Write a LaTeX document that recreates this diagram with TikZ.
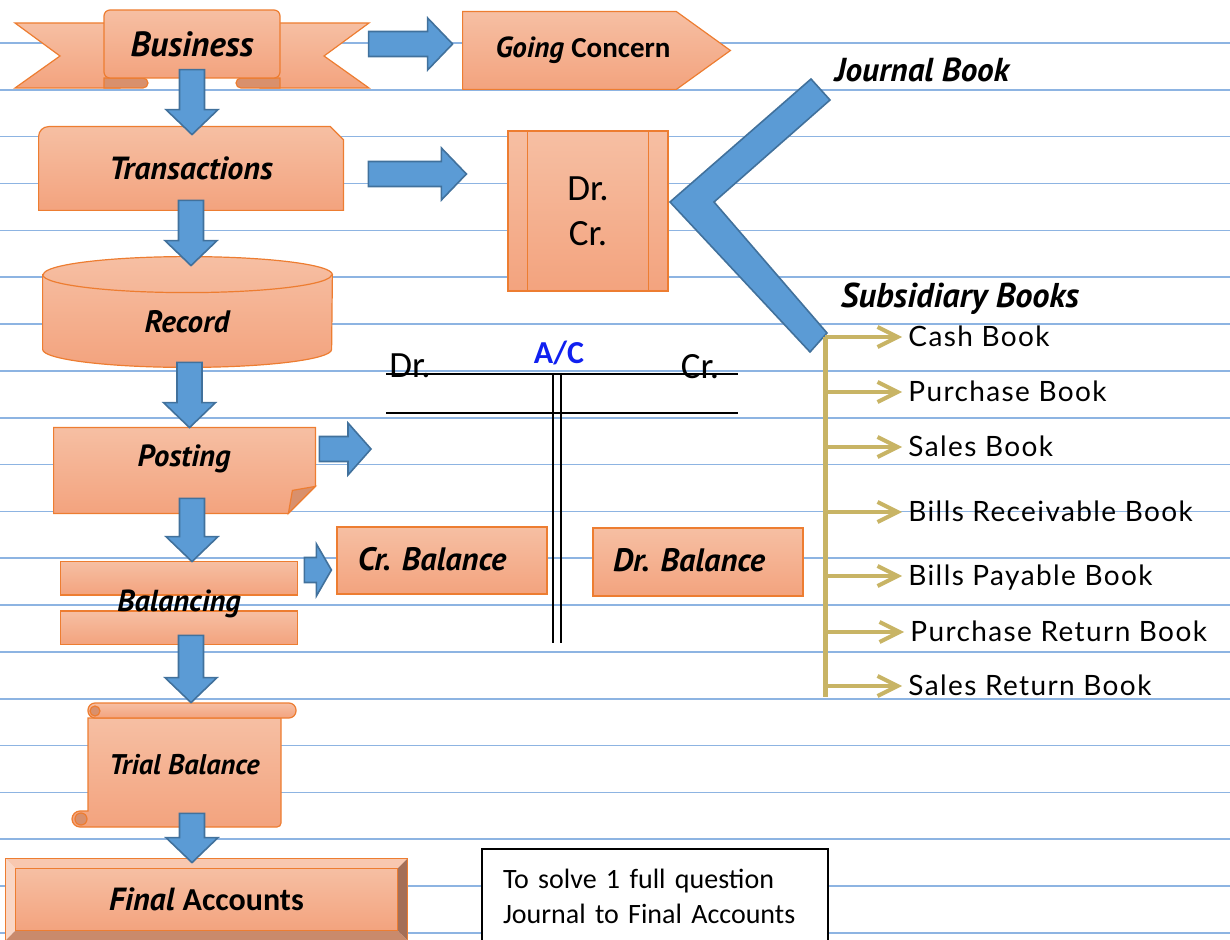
\documentclass[tikz,border=0pt]{standalone}
\usepackage{fontspec}
\setmainfont{Carlito}
\newfontfamily\handfont{PT Sans}
\newfontfamily\gillfont{Lato}[LetterSpace=5]
\usetikzlibrary{arrows.meta,positioning,calc}
\definecolor{peachtop}{HTML}{F6BFA3}
\definecolor{peachbot}{HTML}{F3A37E}
\definecolor{peachedge}{HTML}{ED7D31}
\definecolor{peachfold}{HTML}{D9906C}
\definecolor{arrowblue}{HTML}{5B9BD5}
\definecolor{arrowedge}{HTML}{41719C}
\definecolor{ruleblue}{HTML}{8DB4E2}
\definecolor{gold}{HTML}{C8B465}
\definecolor{bevellight}{HTML}{F9D6C5}
\definecolor{beveltop}{HTML}{F8C8B0}
\definecolor{beveldark}{HTML}{A46F58}
\definecolor{bevelmid}{HTML}{C98A6C}
\definecolor{acblue}{HTML}{1020F0}

\pgfdeclarelayer{paper}
\pgfdeclarelayer{background}
\pgfsetlayers{paper,background,main}

\tikzset{
  box/.style={rectangle, inner sep=0pt, draw=none},
  peach/.style={top color=peachtop, bottom color=peachbot, draw=peachedge, line width=0.6pt},
  fold/.style={fill=peachfold, draw=peachedge, line width=0.6pt},
  hand/.style={font=\handfont\bfseries\itshape\fontsize{#1}{#1}\selectfont},
  hand/.default=15,
  blockarrow/.style={fill=arrowblue, draw=arrowedge, line width=0.8pt},
  ruled/.style={draw=ruleblue, line width=0.8pt},
  bookline/.style={draw=gold, line width=2.5pt},
  bookarrow/.style={draw=gold, line width=2pt, -{Straight Barb[length=10pt,width=10pt]}},
  bookname/.style={font=\gillfont\fontsize{14}{16}\selectfont, anchor=west,
    inner xsep=3pt, text height=9.5pt, text depth=0pt},
  tline/.style={draw=black, line width=1pt}
}

% block arrows: start point, tip
\newcommand{\downblock}[2]{%
  \draw[blockarrow] let \p1=#1, \p2=#2 in
    (\x1-6.25pt,\y1) -- (\x1+6.25pt,\y1) -- (\x1+6.25pt,\y2+12.5pt)
    -- (\x1+13pt,\y2+12.5pt) -- (\x1,\y2) -- (\x1-13pt,\y2+12.5pt)
    -- (\x1-6.25pt,\y2+12.5pt) -- cycle;}
\newcommand{\rightblock}[3][12.5pt]{%
  \draw[blockarrow] let \p1=#2, \p2=#3 in
    (\x1,\y1+6.25pt) -- (\x2-#1,\y1+6.25pt) -- (\x2-#1,\y1+13pt) -- (\x2,\y1)
    -- (\x2-#1,\y1-13pt) -- (\x2-#1,\y1-6.25pt) -- (\x1,\y1-6.25pt) -- cycle;}

\begin{document}
\begin{tikzpicture}[x=0.5pt,y=-0.5pt]
\useasboundingbox (0,0) rectangle (1230,940);

% ruled paper
\begin{pgfonlayer}{paper}
\foreach \k in {0,...,19} \draw[ruled] (0,{43+46.84*\k}) -- (1230,{43+46.84*\k});
\end{pgfonlayer}

% Business ribbon
\shade[peach] (120,23) -- (15,23) -- (60,56) -- (15,88) -- (120,88) -- cycle;
\shade[peach] (260,23) -- (369,23) -- (324,56) -- (369,88) -- (260,88) -- cycle;
\filldraw[fold] (104,78) -- (143,78) arc[start angle=90,end angle=-90,radius=2.5pt] -- (104,88) -- cycle;
\filldraw[fold] (280,78) -- (241,78) arc[start angle=90,end angle=270,radius=2.5pt] -- (280,88) -- cycle;
\node[box, peach, rounded corners=3pt, minimum width=88pt, minimum height=34pt, hand=17.5] (biz) at (192,44) {Business};

% Going Concern
\node[box, minimum width=106.5pt, minimum height=38.5pt] (going) at (569.5,50.5) {};
\begin{pgfonlayer}{background}
\shade[peach] (going.north west) -- (going.north east) -- ([xshift=27pt]going.east)
  -- (going.south east) -- (going.south west) -- cycle;
\end{pgfonlayer}
\node[hand=14.5] (goingtxt) at (583,50) {Going {\normalfont\bfseries Concern}};

% Transactions
\node[box, minimum width=152pt, minimum height=41.5pt, hand=16] (trans) at (191,168.5) {Transactions};
\begin{pgfonlayer}{background}
\shade[peach] (trans.south west) -- ([yshift=-5pt]trans.north west) arc[start angle=180,end angle=90,radius=5pt]
  -- ([xshift=-6.5pt]trans.north east) -- ([yshift=-6.5pt]trans.north east) -- (trans.south east) -- cycle;
\end{pgfonlayer}

% Dr. Cr. box
\node[box, peach, minimum width=80pt, minimum height=80pt, align=center,
  font=\fontsize{18.5}{22.5}\selectfont] (drcr) at (588,211) {Dr.\\Cr.};
\draw[peachedge, line width=0.6pt] ([xshift=10pt]drcr.north west) -- ([xshift=10pt]drcr.south west)
  ([xshift=-10pt]drcr.north east) -- ([xshift=-10pt]drcr.south east);

% Record
\node[box, minimum width=144.5pt, minimum height=55pt] (record) at (187.5,312) {};
\begin{pgfonlayer}{background}
\shade[peach] ([yshift=-9pt]record.north west) -- ([yshift=9pt]record.south west)
  arc[start angle=180,end angle=360,x radius=72.25pt,y radius=9pt]
  -- ([yshift=-9pt]record.north east) arc[start angle=0,end angle=180,x radius=72.25pt,y radius=9pt] -- cycle;
\draw[peachedge, line width=0.6pt] ([yshift=-9pt]record.north west)
  arc[start angle=180,end angle=360,x radius=72.25pt,y radius=9pt];
\end{pgfonlayer}
\node[hand=15.5] (recordtxt) at (187,322) {Record};

% Posting
\node[box, minimum width=130.5pt, minimum height=42.5pt] (posting) at (184.5,470.5) {};
\begin{pgfonlayer}{background}
\shade[peach] (posting.north west) -- (posting.north east) -- ([yshift=13.5pt]posting.south east)
  -- ([xshift=-13.5pt]posting.south east) -- (posting.south west) -- cycle;
\filldraw[fold] ([yshift=13.5pt]posting.south east) -- ([xshift=-13.5pt]posting.south east)
  -- ([xshift=-11.5pt,yshift=11.5pt]posting.south east) -- cycle;
\end{pgfonlayer}
\node[hand=15.3] (postingtxt) at (184,459) {Posting};

% Balancing
\node[box, minimum width=118pt, minimum height=41pt, hand=15.2] (bal) at (179,604) {Balancing};
\begin{pgfonlayer}{background}
\shade[peach] ([yshift=0.5pt]bal.north west) rectangle ([yshift=4.5pt]bal.east);
\shade[peach] ([yshift=-3.5pt]bal.west) rectangle ([yshift=0.5pt]bal.south east);
\end{pgfonlayer}

% Trial Balance scroll
\node[box, minimum width=96.5pt, minimum height=62pt, hand=14.2] (trial) at (184.5,765) {Trial Balance};
\begin{pgfonlayer}{background}
\shade[peach] (88,718) -- (281,718) -- (281,823) arc[start angle=0,end angle=-90,radius=2pt]
  -- (80,827) arc[start angle=270,end angle=90,radius=4pt] -- (88,811) -- cycle;
\shade[peach, rounded corners=3.5pt] (88,703) rectangle (296,718);
\filldraw[fold] (95,711) circle[radius=2.5pt];
\filldraw[fold] (81,819) circle[radius=3pt];
\end{pgfonlayer}

% Final Accounts bevel
\node[box, minimum width=200.5pt, minimum height=40.5pt, hand=16] (final) at (206.5,899.5)
  {Final {\normalfont\bfseries Accounts}};
\begin{pgfonlayer}{background}
\fill[beveltop] (final.north west) -- (final.north east) -- ([xshift=-5pt,yshift=-5pt]final.north east)
  -- ([xshift=5pt,yshift=-5pt]final.north west) -- cycle;
\fill[bevellight] (final.north west) -- ([xshift=5pt,yshift=-5pt]final.north west)
  -- ([xshift=5pt,yshift=5pt]final.south west) -- (final.south west) -- cycle;
\fill[beveldark] (final.north east) -- (final.south east) -- ([xshift=-5pt,yshift=5pt]final.south east)
  -- ([xshift=-5pt,yshift=-5pt]final.north east) -- cycle;
\fill[bevelmid] (final.south west) -- (final.south east) -- ([xshift=-5pt,yshift=5pt]final.south east)
  -- ([xshift=5pt,yshift=5pt]final.south west) -- cycle;
\shade[peach] ([xshift=5pt,yshift=-5pt]final.north west) rectangle ([xshift=-5pt,yshift=5pt]final.south east);
\draw[peachedge, line width=0.6pt] (final.north west) rectangle (final.south east);
\end{pgfonlayer}

% balance boxes
\node[box, peach, minimum width=105pt, minimum height=33.5pt] (crbal) at (442,560.5) {};
\node[hand=16.2] (crtxt) at (432,559) {Cr. Balance};
\node[box, peach, minimum width=105pt, minimum height=34pt] (drbal) at (698,562) {};
\node[hand=16.2] (drtxt) at (689,560) {Dr. Balance};

% T account
\node[font=\bfseries\fontsize{16}{18}\selectfont, text=acblue] (ac) at (559,353) {A/C};
\node[font=\fontsize{18.5}{20}\selectfont] (tdr) at (410,366) {Dr.};
\node[font=\fontsize{18.5}{20}\selectfont] (tcr) at (700,367) {Cr.};
\draw[tline] (386,374) -- (738,374);
\draw[tline] (386,413) -- (738,413);
\draw[tline] (553,373) -- (553,643);
\draw[tline] (561,373) -- (561,643);

% journal and books
\draw[blockarrow] (670,202) -- (811,79) -- (830,100) -- (714,202) -- (827,333) -- (810,352) -- cycle;
\node[hand=16.6] (journal) at (922,70) {Journal Book};
\node[hand=17.2] (subsid) at (960,299) {Subsidiary Books};

\node[bookname] (cash) at (902,337) {Cash Book};
\node[bookname] (purch) at (902,392) {Purchase Book};
\node[bookname] (sales) at (902,447) {Sales Book};
\node[bookname] (billsr) at (902,512) {Bills Receivable Book};
\node[bookname] (billsp) at (902,576) {Bills Payable Book};
\node[bookname] (purchret) at (904,632) {Purchase Return Book};
\node[bookname] (salesret) at (902,686) {Sales Return Book};
\coordinate (trunk) at (825,337);
\coordinate (trunkend) at (825,697);
\draw[bookline] (trunk) -- (trunkend);
\foreach \b in {cash,purch,sales,billsr,billsp,purchret,salesret}
  \draw[bookarrow] (trunk |- \b.west) -- (\b.west);

% note
\node[draw=black, line width=1pt, fill=white, minimum width=173pt, minimum height=47.5pt,
  text width=152pt, inner xsep=10.5pt, align=left, font=\fontsize{14}{17.5}\selectfont]
  (note) at (655,896.5) {To solve 1 full question\\Journal to Final Accounts};

% flow arrows
\coordinate (postend) at (371,449);
\rightblock{([xshift=44pt]biz.east)}{([xshift=-5pt]going.west)}
\rightblock{([xshift=12.5pt,yshift=-2.75pt]trans.east)}{([xshift=-20.5pt]drcr.west)}
\rightblock[11.5pt]{([xshift=2pt,yshift=10.75pt]posting.east)}{(postend)}
\rightblock[7.5pt]{([xshift=3.5pt,yshift=17pt]bal.east)}{([xshift=-2.5pt]crbal.west)}
\downblock{([yshift=4.5pt]biz.south)}{([yshift=-4pt]trans.north)}
\downblock{([yshift=5pt]trans.south)}{([yshift=-4.5pt]record.north)}
\downblock{([xshift=1pt,yshift=2.5pt]record.south)}{(posting.north)}
\downblock{([xshift=3.75pt,yshift=7.5pt]posting.south)}{([yshift=0.5pt]bal.north)}
\downblock{([xshift=6pt,yshift=5pt]bal.south)}{(trial.north)}
\downblock{([xshift=3.75pt,yshift=7pt]trial.south)}{([yshift=-2pt]final.north)}
\end{tikzpicture}
\end{document}
